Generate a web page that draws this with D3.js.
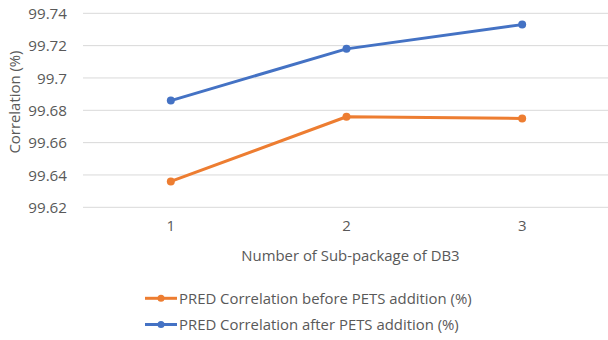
<!DOCTYPE html>
<html>
<head>
<meta charset="utf-8">
<script src="https://cdn.jsdelivr.net/npm/d3@7"></script>
<style>
  html, body { margin: 0; padding: 0; background: #fff; }
  svg { display: block; font-family: "Open Sans", Lato, sans-serif; }
</style>
</head>
<body>
<svg id="chart" width="608" height="340"></svg>
<script>
const categories = ["1", "2", "3"];
const seriesNames = [
  "PRED Correlation before PETS addition (%)",
  "PRED Correlation after PETS addition (%)"
];
const beforeValues = [99.636, 99.676, 99.675];
const afterValues = [99.686, 99.718, 99.733];
const yTicks = [99.62, 99.64, 99.66, 99.68, 99.70, 99.72, 99.74];
const yTickLabels = ["99.62", "99.64", "99.66", "99.68", "99.7", "99.72", "99.74"];
const xTitle = "Number of Sub-package of DB3";
const yTitle = "Correlation (%)";

(function () {
const colors = ["#ED7D31", "#4472C4"];
const textColor = "#595959";
const fs = "14.9px";

const svg = d3.select("#chart");
const pLeft = 83, pRight = 610, pTop = 13.3, pBottom = 207.3;

const x = d3.scaleBand().domain(categories).range([pLeft, pRight]);
const y = d3.scaleLinear().domain([99.62, 99.74]).range([pBottom, pTop]);

// gridlines
svg.append("g").selectAll("line").data(yTicks).join("line")
  .attr("x1", pLeft).attr("x2", 608)
  .attr("y1", d => y(d)).attr("y2", d => y(d))
  .attr("stroke", "#D9D9D9").attr("stroke-width", 1);

// y axis labels
const yAxis = d3.axisLeft(y).tickValues(yTicks)
  .tickFormat((d, i) => yTickLabels[i]).tickSize(0).tickPadding(0);
const gy = svg.append("g").attr("transform", `translate(67,0)`).call(yAxis);
gy.select(".domain").remove();
gy.selectAll("text").attr("fill", textColor).style("font-size", "15.2px")
  .style("font-family", "'Open Sans', sans-serif").attr("dy", "0.35em");

// x axis labels
const xAxis = d3.axisBottom(x).tickSize(0).tickPadding(0);
const gx = svg.append("g").attr("transform", `translate(0,220)`).call(xAxis);
gx.select(".domain").remove();
gx.selectAll("text").attr("fill", textColor).style("font-size", "15px")
  .style("font-family", "'Open Sans', sans-serif");

// axis titles
svg.append("text").attr("x", 350.5).attr("y", 256).attr("dy", "0.35em")
  .attr("text-anchor", "middle")
  .attr("fill", textColor).style("font-size", fs).text(xTitle);
svg.append("text").attr("transform", "translate(15,102) rotate(-90)")
  .attr("text-anchor", "middle").attr("dy", "0.35em").attr("fill", textColor)
  .style("font-size", fs).text(yTitle);

// series
const series = [beforeValues, afterValues];
const line = d3.line()
  .x((d, i) => x(categories[i]) + x.bandwidth() / 2)
  .y(d => y(d));
series.forEach((vals, s) => {
  svg.append("path").datum(vals).attr("d", line)
    .attr("fill", "none").attr("stroke", colors[s]).attr("stroke-width", 3)
    .attr("stroke-linejoin", "round").attr("stroke-linecap", "round");
  svg.append("g").selectAll("circle").data(vals).join("circle")
    .attr("cx", (d, i) => x(categories[i]) + x.bandwidth() / 2)
    .attr("cy", d => y(d)).attr("r", 4).attr("fill", colors[s]);
});

// legend
const legendY = [298.3, 324.5];
seriesNames.forEach((name, s) => {
  const g = svg.append("g").attr("transform", `translate(0,${legendY[s]})`);
  g.append("line").attr("x1", 145).attr("x2", 177).attr("y1", 0).attr("y2", 0)
    .attr("stroke", colors[s]).attr("stroke-width", 3);
  g.append("circle").attr("cx", 161).attr("cy", 0).attr("r", 3.5).attr("fill", colors[s]);
  g.append("text").attr("x", 179).attr("y", 0).attr("dy", "0.35em")
    .attr("fill", textColor).style("font-size", fs).text(name);
});
})();
</script>
</body>
</html>
